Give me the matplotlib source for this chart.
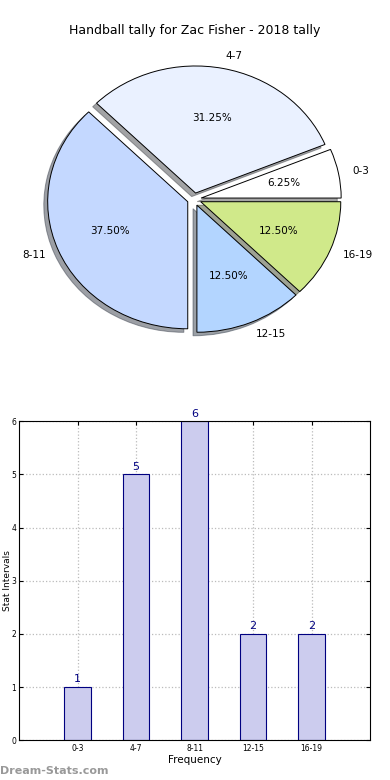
import numpy as np
import matplotlib.pyplot as plt

labels = ['0-3', '4-7', '8-11', '12-15', '16-19']
counts = [1, 5, 6, 2, 2]
pie_colors = ['#ffffff', '#eaf1ff', '#c4d8ff', '#b3d5ff', '#d0e98a']

fig = plt.figure(figsize=(3.9, 7.8), dpi=100)

## PIE ##
# old-style pie: axes not forced to equal aspect, so it is a bit squashed
ax1 = fig.add_axes([0.067, 0.549, 0.862, 0.391])
wedges, texts, autotexts = ax1.pie(
    counts, labels=labels, colors=pie_colors, autopct='%.2f%%',
    explode=[0.05] * len(counts), shadow=True, startangle=0,
    wedgeprops={'edgecolor': 'black', 'linewidth': 0.7},
    textprops={'fontsize': 7.5})
ax1.set_aspect('auto')
ax1.set_xlim(-1.2, 1.2)
ax1.set_ylim(-1.2, 1.2)
fig.text(0.5, 0.961, 'Handball tally for Zac Fisher - 2018 tally',
         ha='center', va='center', fontsize=9)

## BAR ##
ax2 = fig.add_axes([0.049, 0.051, 0.9, 0.409])
x = np.arange(len(labels))
ax2.bar(x, counts, width=0.45, color='#ccccee', edgecolor='navy', linewidth=0.8, zorder=2)
for xi, c in zip(x, counts):
    ax2.text(xi, c + 0.05, str(c), ha='center', va='bottom', color='navy', fontsize=8)
ax2.set_xlim(-1, 5)
ax2.set_ylim(0, 6)
ax2.set_xticks(x)
ax2.set_xticklabels(labels)
ax2.set_yticks(range(7))
ax2.tick_params(labelsize=5.5, direction='in', top=True, right=True, length=3, pad=3)
ax2.tick_params(axis='y', pad=2)
ax2.grid(True, linestyle=':', color='#bbbbbb', linewidth=0.9, zorder=0)
ax2.set_axisbelow(True)
ax2.set_xlabel('Frequency', fontsize=7.5, labelpad=1)
ax2.set_ylabel('Stat Intervals', fontsize=6.5)
ax2.yaxis.set_label_coords(-0.019, 0.5)

fig.text(0.0, 0.012, 'Dream-Stats.com', color='#999999', fontsize=8,
         fontweight='bold', ha='left', va='center')

fig.savefig('out.png', dpi=100)
